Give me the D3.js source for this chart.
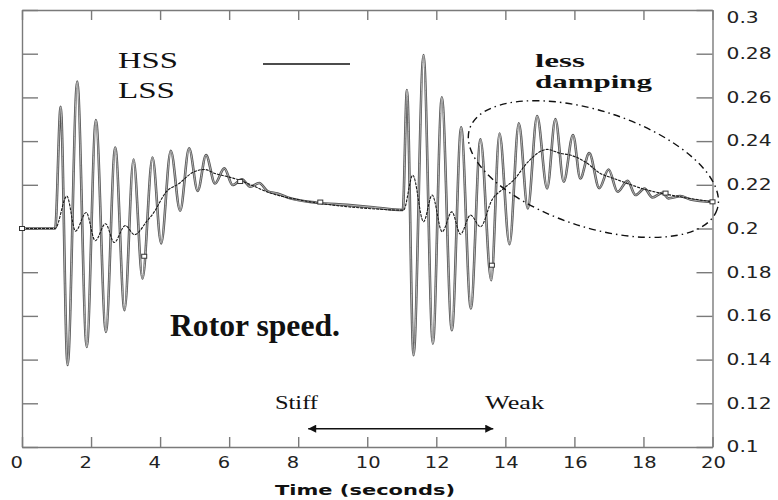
<!DOCTYPE html>
<html>
<head>
<meta charset="utf-8">
<script src="https://cdn.jsdelivr.net/npm/d3@7/dist/d3.min.js"></script>
<style>
  body { margin: 0; background: #fff; }
  svg { display: block; }
</style>
</head>
<body>
<svg id="chart" width="778" height="500"></svg>
<script>
// ---- data (extrema + knees of each trace) ----
const hssTime = [0, 0.96, 1.12, 1.32, 1.60, 1.875, 2.14, 2.43, 2.70, 2.97, 3.23, 3.49, 3.78, 4.03,
  4.31, 4.58, 4.84, 5.09, 5.33, 5.59, 5.86, 6.10, 6.37, 6.61, 6.87, 7.12, 7.40, 7.77, 8.54, 9.41,
  10.17, 11.03, 11.15, 11.34, 11.63, 11.90, 12.16, 12.45, 12.72, 13.00, 13.28, 13.59, 13.83, 14.12,
  14.39, 14.65, 14.92, 15.21, 15.45, 15.69, 15.96, 16.17, 16.43, 16.72, 16.99, 17.25, 17.54, 17.77,
  18.03, 18.26, 18.55, 18.72, 19.07, 19.36, 20];
const hssSpeed = [0.2, 0.2, 0.2557, 0.1375, 0.2672, 0.1458, 0.2496, 0.1527, 0.2371, 0.1626, 0.2316, 0.1771, 0.2325, 0.1932,
  0.2356, 0.2081, 0.2367, 0.2172, 0.2336, 0.2206, 0.2275, 0.2199, 0.2225, 0.2191, 0.2208, 0.2170, 0.2160, 0.2138, 0.2118, 0.2108,
  0.2097, 0.2085, 0.2634, 0.1420, 0.2794, 0.1473, 0.2600, 0.1534, 0.2463, 0.1634, 0.2408, 0.1763, 0.2435, 0.1928,
  0.2481, 0.2092, 0.2515, 0.2183, 0.2501, 0.2214, 0.2428, 0.2229, 0.2345, 0.2185, 0.2270, 0.2168, 0.2218, 0.2153,
  0.2183, 0.2142, 0.2163, 0.2138, 0.2148, 0.2133, 0.2122];

const lssTime = [0, 0.96, 1.30, 1.55, 1.86, 2.12, 2.42, 2.67, 2.99, 3.26, 3.62, 3.80, 4.17, 4.55, 4.94,
  5.28, 5.59, 6.17, 6.66, 7.09, 8.06, 9.01, 9.99, 11.05, 11.32, 11.63, 11.88, 12.17, 12.45, 12.70,
  12.99, 13.28, 13.61, 13.95, 14.24, 14.65, 15.21, 15.59, 15.88, 16.32, 16.75, 17.14, 18.11, 19.07, 20];
const lssSpeed = [0.2, 0.2, 0.2148, 0.1988, 0.2073, 0.1944, 0.2022, 0.1936, 0.2013, 0.1972, 0.2034, 0.2069, 0.2166, 0.2206, 0.2256,
  0.2270, 0.2252, 0.2228, 0.2198, 0.2168, 0.2130, 0.2107, 0.2092, 0.2084, 0.2244, 0.2031, 0.2153, 0.1985, 0.2076, 0.1974,
  0.2061, 0.2008, 0.2130, 0.2183, 0.2221, 0.2304, 0.2362, 0.2344, 0.2336, 0.2304, 0.2252, 0.2229, 0.2176, 0.2145, 0.2122];

// little symbols sitting on the traces
const markerTime = [0, 3.54, 6.32, 8.64, 13.61, 18.64, 20];
const markerSpeed = [0.2, 0.1873, 0.2215, 0.2121, 0.1832, 0.2162, 0.2122];

const xTicks = [0, 2, 4, 6, 8, 10, 12, 14, 16, 18, 20];
const yTicks = [0.1, 0.12, 0.14, 0.16, 0.18, 0.2, 0.22, 0.24, 0.26, 0.28, 0.3];
const xTitle = 'Time (seconds)';

// annotations (data units)
const ellipseNote = { cx: 16.55, cy: 0.2272, rx: 3.77, ry: 0.0266, angle: 18 };
const arrowSpan = { from: 8.29, to: 13.65, at: 0.1084 };

// ---- layout ----
const svg = d3.select('#chart');
const x = d3.scaleLinear().domain([0, 20]).range([22, 712.5]);
const y = d3.scaleLinear().domain([0.1, 0.3]).range([447, 10]);
const AXIS = '#7a7a7a';

function stretch(sel, k) {
  sel.each(function () {
    const w = this.getComputedTextLength();
    d3.select(this).attr('textLength', w * k).attr('lengthAdjust', 'spacingAndGlyphs');
  });
}
function fitWidth(sel, w) {
  sel.attr('textLength', w).attr('lengthAdjust', 'spacingAndGlyphs');
}

// axes: inward ticks on all four sides
const gx = svg.append('g').attr('transform', `translate(0,${y(0.1)})`)
  .call(d3.axisBottom(x).tickValues(xTicks).tickSize(-10).tickSizeOuter(0).tickPadding(0));
const gxt = svg.append('g').attr('transform', `translate(0,${y(0.3)})`)
  .call(d3.axisTop(x).tickValues(xTicks).tickSize(-10).tickSizeOuter(0).tickFormat(''));
const gyl = svg.append('g').attr('transform', `translate(${x(0)},0)`)
  .call(d3.axisLeft(y).tickValues(yTicks).tickSize(-16).tickSizeOuter(0).tickFormat(''));
const gyr = svg.append('g').attr('transform', `translate(${x(20)},0)`)
  .call(d3.axisRight(y).tickValues(yTicks).tickSize(-16).tickSizeOuter(0).tickPadding(14)
    .tickFormat(d => d3.format('~g')(d)));

[gx, gxt, gyl, gyr].forEach(g => {
  g.select('.domain').attr('stroke', AXIS).attr('stroke-width', 1.4);
  g.selectAll('.tick line').attr('stroke', AXIS).attr('stroke-width', 1.4);
  g.selectAll('.tick text').attr('fill', '#222')
    .attr('font-family', '"DejaVu Sans", Verdana, sans-serif').attr('font-size', 15);
});
gx.selectAll('.tick text').attr('text-anchor', 'start').attr('x', -12).attr('y', 21).attr('dy', 0);
gyr.selectAll('.tick text').filter(d => d === 0.3).attr('dy', '0.85em');
stretch(gx.selectAll('.tick text'), 1.3);
stretch(gyr.selectAll('.tick text'), 1.35);

svg.append('text').attr('x', 275).attr('y', 495)
  .attr('font-family', '"DejaVu Sans", Verdana, sans-serif').attr('font-weight', 'bold')
  .attr('font-size', 14).attr('fill', '#111').text(xTitle)
  .call(fitWidth, 180);

// ---- traces ----
const hss = hssTime.map((t, i) => [t, hssSpeed[i]]);
const lss = lssTime.map((t, i) => [t, lssSpeed[i]]);
const line = d3.line().x(d => x(d[0])).y(d => y(d[1])).curve(d3.curveMonotoneX);

svg.append('path').datum(hss).attr('d', line).attr('fill', 'none')
  .attr('stroke', '#555').attr('stroke-width', 2.6).attr('stroke-linejoin', 'round');
svg.append('path').datum(hss).attr('d', line).attr('fill', 'none')
  .attr('stroke', '#bdbdbd').attr('stroke-width', 0.9);
svg.append('path').datum(lss).attr('d', line).attr('fill', 'none')
  .attr('stroke', '#1a1a1a').attr('stroke-width', 1.1).attr('stroke-dasharray', '3,1');

svg.append('g').selectAll('rect').data(markerTime).join('rect')
  .attr('x', (d, i) => x(d) - 2.5).attr('y', (d, i) => y(markerSpeed[i]) - 2)
  .attr('width', 5).attr('height', 4)
  .attr('fill', '#fff').attr('stroke', '#333').attr('stroke-width', 1);

// ---- annotations ----
const ex = x(ellipseNote.cx), ey = y(ellipseNote.cy);
svg.append('ellipse').attr('cx', ex).attr('cy', ey)
  .attr('rx', x(ellipseNote.cx + ellipseNote.rx) - ex)
  .attr('ry', y(ellipseNote.cy - ellipseNote.ry) - ey)
  .attr('transform', `rotate(${ellipseNote.angle},${ex},${ey})`)
  .attr('fill', 'none').attr('stroke', '#111').attr('stroke-width', 1.4)
  .attr('stroke-dasharray', '7,4,1.5,4');

const defs = svg.append('defs');
defs.append('marker').attr('id', 'head').attr('viewBox', '0 0 10 10')
  .attr('refX', 10).attr('refY', 5).attr('markerWidth', 12).attr('markerHeight', 8)
  .attr('markerUnits', 'userSpaceOnUse').attr('orient', 'auto-start-reverse')
  .append('path').attr('d', 'M0,0L10,5L0,10Z').attr('fill', '#111');
svg.append('line')
  .attr('x1', x(arrowSpan.from)).attr('x2', x(arrowSpan.to))
  .attr('y1', y(arrowSpan.at)).attr('y2', y(arrowSpan.at))
  .attr('stroke', '#111').attr('stroke-width', 1.5)
  .attr('marker-start', 'url(#head)').attr('marker-end', 'url(#head)');

const serif = '"Liberation Serif", "Times New Roman", serif';
function note(tx, px, py, size, weight, w) {
  const t = svg.append('text').attr('x', px).attr('y', py)
    .attr('font-family', serif).attr('font-size', size).attr('font-weight', weight)
    .attr('fill', '#111').text(tx);
  if (w) t.call(fitWidth, w);
  return t;
}
note('HSS', 118, 68, 24, 'normal', 60);
note('LSS', 118, 98, 24, 'normal', 57);
svg.append('line').attr('x1', 263).attr('x2', 350).attr('y1', 64).attr('y2', 64)
  .attr('stroke', '#111').attr('stroke-width', 1.4);
note('less', 535, 67, 19, 'bold', 50);
note('damping', 535, 88, 19, 'bold', 117);
note('Rotor speed.', 170, 336, 31, 'bold', 170);
note('Stiff', 275, 409, 18, 'normal', 43);
note('Weak', 485, 409, 18, 'normal', 59);
</script>
</body>
</html>
